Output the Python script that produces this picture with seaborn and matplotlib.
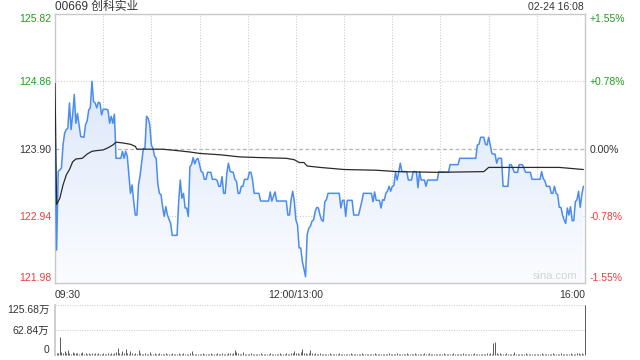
import numpy as np
import matplotlib
matplotlib.use("Agg")
import matplotlib.pyplot as plt
import seaborn as sns
from matplotlib.colors import LinearSegmentedColormap

# ---------------- data ----------------
title_text = "00669 创科实业"
stamp_text = "02-24 16:08"
watermark = "sina.com"
prev_close = 123.90
price_ticks = [121.98, 122.94, 123.90, 124.86, 125.82]
price_tick_labels = ["121.98", "122.94", "123.90", "124.86", "125.82"]
pct_labels = ["-1.55%", "-0.78%", "0.00%", "+0.78%", "+1.55%"]
time_tick_pos = [0, 150, 330]
time_tick_labels = ["09:30", "12:00/13:00", "16:00"]
grid_minutes = [30, 60, 90, 120, 150, 180, 210, 240, 270, 300]
vol_ticks = [0, 62.84, 125.68]
vol_tick_labels = ["0", "62.84万", "125.68万"]

price_minute = [0, 1, 2, 4, 5, 6, 7, 8, 9, 10, 11, 12, 13, 14, 16, 18, 19, 20, 21, 22,
                23, 24, 25, 26, 27, 28, 29, 30, 32, 33, 34, 35, 36, 37, 38, 41, 42, 43, 44, 45,
                46, 47, 48, 49, 50, 51, 52, 53, 54, 55, 56, 57, 58, 59, 60, 61, 62, 63, 64, 65,
                66, 67, 68, 69, 70, 72, 73, 76, 77, 78, 79, 80, 81, 82, 83, 84, 85, 86, 87, 88,
                89, 90, 91, 92, 93, 94, 95, 97, 98, 100, 101, 102, 103, 104, 105, 106, 107, 108, 109, 111,
                112, 113, 114, 115, 116, 117, 118, 120, 121, 122, 123, 124, 127, 128, 133, 134, 135, 137, 138, 144,
                145, 146, 147, 148, 149, 150, 151, 152, 153, 154, 156, 157, 158, 159, 160, 161, 162, 163, 164, 165,
                166, 167, 168, 169, 170, 171, 177, 178, 179, 180, 181, 182, 185, 186, 189, 191, 192, 197, 198, 199,
                200, 202, 203, 204, 205, 206, 207, 208, 209, 210, 211, 212, 213, 214, 215, 216, 219, 220, 222, 223,
                225, 226, 227, 228, 230, 231, 232, 238, 239, 245, 246, 251, 252, 262, 263, 264, 265, 267, 268, 269,
                270, 271, 272, 273, 274, 275, 276, 278, 279, 282, 283, 284, 285, 286, 288, 289, 291, 292, 293, 296,
                297, 302, 303, 304, 305, 306, 308, 309, 310, 311, 312, 313, 314, 315, 316, 317, 318, 319, 320, 321,
                322, 323, 324, 325, 326, 327, 328, 329]
price_value = [124.00, 122.45, 123.57, 123.62, 123.95, 124.12, 124.17, 124.19, 124.55, 124.17,
               124.38, 124.67, 124.26, 124.40, 124.07, 124.06, 124.24, 124.29, 124.45, 124.48,
               124.86, 124.57, 124.55, 124.48, 124.56, 124.55, 124.38, 124.46, 124.46, 124.45,
               124.26, 124.36, 124.26, 124.39, 123.76, 123.76, 123.86, 123.76, 123.86, 123.79,
               123.52, 123.26, 123.38, 123.14, 122.95, 122.95, 123.38, 123.52, 123.71, 123.90,
               123.90, 124.36, 124.33, 124.24, 123.95, 123.90, 123.79, 123.76, 123.40, 123.26,
               123.24, 123.07, 122.93, 123.07, 122.95, 122.83, 122.66, 122.66, 123.14, 123.45,
               123.19, 123.26, 123.05, 123.05, 122.93, 123.64, 123.67, 123.77, 123.68, 123.74,
               123.76, 123.67, 123.57, 123.56, 123.46, 123.46, 123.56, 123.56, 123.46, 123.46,
               123.44, 123.36, 123.36, 123.50, 123.26, 123.26, 123.55, 123.69, 123.57, 123.56,
               123.46, 123.43, 123.26, 123.26, 123.36, 123.36, 123.46, 123.46, 123.56, 123.56,
               123.45, 123.26, 123.26, 123.15, 123.15, 123.28, 123.15, 123.28, 123.15, 123.15,
               122.95, 122.95, 123.17, 123.29, 123.14, 122.88, 122.81, 122.48, 122.48, 122.29,
               122.07, 122.67, 122.76, 122.79, 122.86, 122.88, 123.00, 123.06, 123.05, 122.95,
               122.88, 122.86, 123.14, 123.17, 123.26, 123.26, 123.26, 123.05, 123.16, 123.16,
               122.93, 123.16, 123.16, 122.95, 122.95, 123.14, 123.26, 123.26, 123.14, 123.28,
               123.16, 123.16, 123.05, 123.17, 123.16, 123.26, 123.29, 123.36, 123.29, 123.36,
               123.37, 123.56, 123.45, 123.56, 123.69, 123.57, 123.57, 123.45, 123.45, 123.57,
               123.57, 123.34, 123.57, 123.45, 123.45, 123.36, 123.45, 123.45, 123.57, 123.56,
               123.67, 123.67, 123.76, 123.76, 123.95, 123.96, 124.06, 124.06, 123.96, 123.95,
               124.06, 123.95, 123.83, 123.82, 123.82, 123.69, 123.76, 123.76, 123.36, 123.36,
               123.67, 123.67, 123.62, 123.56, 123.56, 123.67, 123.67, 123.62, 123.56, 123.56,
               123.46, 123.46, 123.57, 123.47, 123.44, 123.36, 123.36, 123.26, 123.26, 123.36,
               123.26, 123.24, 123.06, 123.06, 122.95, 122.88, 122.83, 123.05, 122.95, 123.07,
               122.87, 122.87, 123.14, 123.17, 123.29, 123.06, 123.24, 123.36]

avg_minute = [0, 1, 3, 5, 7, 9, 11, 13, 17, 20, 23, 26, 30, 33, 36, 38, 42, 47, 50, 51,
              55, 67, 76, 84, 90, 103, 115, 128, 144, 149, 152, 155, 157, 165, 180, 200, 213, 238, 267, 270,
              281, 302, 314, 329]
avg_value = [124.83, 123.10, 123.19, 123.38, 123.52, 123.60, 123.71, 123.75, 123.76, 123.82,
             123.86, 123.87, 123.88, 123.91, 123.95, 123.99, 123.98, 123.96, 123.93, 123.89,
             123.89, 123.89, 123.87, 123.85, 123.83, 123.81, 123.78, 123.77, 123.76, 123.74,
             123.70, 123.70, 123.65, 123.63, 123.60, 123.59, 123.57, 123.56, 123.57, 123.63,
             123.63, 123.63, 123.63, 123.60]

volume_wan = [3, 4, 6, 46, 8, 5, 9, 4, 13, 6, 3, 8, 5, 4, 6, 3, 5, 7, 3, 4, 2, 5, 3, 6, 2, 4, 3, 5, 2, 3,
              4, 3, 2, 6, 3, 5, 2, 4, 8, 17, 6, 3, 9, 4, 14, 5, 3, 11, 4, 3, 6, 3, 12, 4, 2, 3, 5, 2, 3, 8,
              3, 2, 4, 3, 2, 5, 3, 2, 3, 4, 2, 3, 2, 4, 3, 2, 3, 5, 2, 3, 4, 2, 3, 2, 4, 10, 3, 2, 3, 2,
              3, 2, 4, 2, 3, 2, 3, 4, 2, 3, 2, 5, 3, 2, 4, 3, 2, 3, 6, 4, 3, 5, 12, 7, 4, 3, 2, 8, 3, 2,
              3, 2, 4, 2, 3, 2, 3, 2, 4, 3, 2, 3, 2, 3, 4, 2, 3, 2, 3, 2, 4, 3, 2, 3, 5, 3, 2, 4, 6, 10,
              5, 4, 3, 7, 15, 4, 6, 3, 5, 12, 4, 3, 6, 3, 2, 4, 3, 2, 3, 2, 3, 4, 2, 3, 2, 3, 2, 4, 3, 2,
              3, 2, 3, 2, 4, 2, 3, 2, 3, 2, 3, 4, 2, 3, 2, 3, 2, 3, 2, 4, 3, 2, 3, 2, 3, 2, 3, 2, 4, 3,
              2, 3, 2, 6, 3, 2, 3, 2, 3, 4, 2, 3, 2, 3, 5, 2, 3, 2, 3, 2, 4, 3, 2, 6, 3, 2, 3, 2, 3, 2,
              3, 2, 4, 3, 2, 3, 2, 3, 4, 2, 3, 2, 3, 2, 4, 3, 2, 3, 2, 3, 2, 4, 3, 2, 3, 2, 3, 2, 3, 4,
              3, 4, 2, 30, 33, 5, 3, 4, 3, 2, 3, 4, 2, 3, 2, 3, 7, 3, 2, 3, 2, 3, 2, 4, 3, 2, 3, 2, 3, 2,
              3, 2, 3, 4, 2, 3, 2, 3, 2, 3, 4, 2, 3, 2, 3, 5, 3, 2, 3, 2, 3, 6, 3, 2, 3, 4, 5, 3, 4, 3,
              125.68]

# ---------------- style ----------------
sns.set_theme(style="white")
fam = ["Liberation Sans", "Noto Sans CJK SC", "DejaVu Sans"]
plt.rcParams["font.family"] = fam
plt.rcParams["axes.unicode_minus"] = False

GREEN = "#1e9e1e"
RED = "#f03c3c"
DARK = "#333333"
BLUE = "#4a8cf0"
GRID = "#cfcfcf"
SPINE = "#c8c8c8"
FS = 7.5

W, H = 640, 360
fig = plt.figure(figsize=(6.4, 3.6), dpi=100)
ax = fig.add_axes([55 / W, 1 - 283 / H, 530 / W, 269 / H])
axv = fig.add_axes([55 / W, 5 / H, 530 / W, 50 / H])

ymin, ymax = price_ticks[0], price_ticks[-1]
xmin, xmax = time_tick_pos[0], time_tick_pos[-1]

# gradient fill under price line
fill = ax.fill_between(price_minute, price_value, ymin, color="none", lw=0)
cmap = LinearSegmentedColormap.from_list("g", ["#fbfcff", "#d3e1f8"])
grad = np.linspace(0, 1, 256).reshape(-1, 1)
im = ax.imshow(grad, extent=[xmin, xmax, ymin, ymax], origin="lower",
               aspect="auto", cmap=cmap, zorder=1)
im.set_clip_path(fill.get_paths()[0], transform=ax.transData)

# grid
for gm in grid_minutes:
    ax.axvline(gm, color=GRID, lw=0.8, ls=(0, (1, 1.5)), zorder=0.5)
for pt in (price_ticks[1], price_ticks[3]):
    ax.axhline(pt, color=GRID, lw=0.8, ls=(0, (1, 1.5)), zorder=0.5)
ax.axhline(prev_close, color="#b4b4b4", lw=0.9, ls=(0, (3, 2)), zorder=0.6)

# lines
sns.lineplot(x=price_minute, y=price_value, ax=ax, color=BLUE, lw=1.1,
             estimator=None, sort=False, zorder=3)
sns.lineplot(x=avg_minute, y=avg_value, ax=ax, color="#2a2a2a", lw=0.9,
             estimator=None, sort=False, zorder=4)

ax.set_xlim(xmin, xmax)
ax.set_ylim(ymin, ymax)
for s in ax.spines.values():
    s.set_color(SPINE)
    s.set_linewidth(1.0)

ax.set_yticks(price_ticks)
ax.set_yticklabels(price_tick_labels)
ax.tick_params(axis="y", length=0, pad=2.5, labelsize=FS)
left_colors = [RED, RED, DARK, GREEN, GREEN]
for i, lbl in enumerate(ax.get_yticklabels()):
    lbl.set_color(left_colors[i])
    if i == 0:
        lbl.set_va("bottom")
    elif i == len(price_ticks) - 1:
        lbl.set_va("top")

ax.set_xticks(time_tick_pos)
ax.set_xticklabels(time_tick_labels)
ax.tick_params(axis="x", length=0, pad=5, labelsize=FS, colors=DARK)
for i, lbl in enumerate(ax.get_xticklabels()):
    lbl.set_ha(["left", "center", "right"][i])
ax.set_xlabel("")
ax.set_ylabel("")

ax2 = ax.twinx()
ax2.set_ylim(ymin, ymax)
ax2.set_yticks(price_ticks)
ax2.set_yticklabels(pct_labels)
ax2.tick_params(axis="y", length=0, pad=3, labelsize=FS)
for i, lbl in enumerate(ax2.get_yticklabels()):
    lbl.set_color(left_colors[i])
    if i == 0:
        lbl.set_va("bottom")
    elif i == len(price_ticks) - 1:
        lbl.set_va("top")
for s in ax2.spines.values():
    s.set_visible(False)
ax2.grid(False)

ax.text(0.985, 0.008, watermark, transform=ax.transAxes, ha="right", va="bottom",
        fontsize=8, color="#d4d4d4", zorder=5)

fig.text(55 / W, 1 - 7 / H, title_text, ha="left", va="center", fontsize=8.5,
         color=DARK, family=fam)
fig.text(584 / W, 1 - 7 / H, stamp_text, ha="right", va="center", fontsize=FS,
         color=DARK)

# volume panel
vol_minute = list(range(len(volume_wan)))
axv.vlines(vol_minute, 0, volume_wan, color="#5a5a5a", lw=0.7, clip_on=False)
axv.set_xlim(xmin, xmax)
axv.set_ylim(0, vol_ticks[-1])
for vt in vol_ticks[1:]:
    axv.axhline(vt, color=GRID, lw=0.8, ls=(0, (1, 1.2)), zorder=0.5)
for k in ("top", "right", "bottom"):
    axv.spines[k].set_visible(False)
axv.spines["left"].set_color(SPINE)
axv.set_xticks([])
axv.set_yticks(vol_ticks)
axv.set_yticklabels(vol_tick_labels)
axv.tick_params(axis="y", length=0, pad=4, labelsize=FS, colors=DARK)
for i, lbl in enumerate(axv.get_yticklabels()):
    lbl.set_family(fam)
    if i == 0:
        lbl.set_va("bottom")
    elif i == len(vol_ticks) - 1:
        lbl.set_va("top")

fig.savefig("out.png", dpi=100)
